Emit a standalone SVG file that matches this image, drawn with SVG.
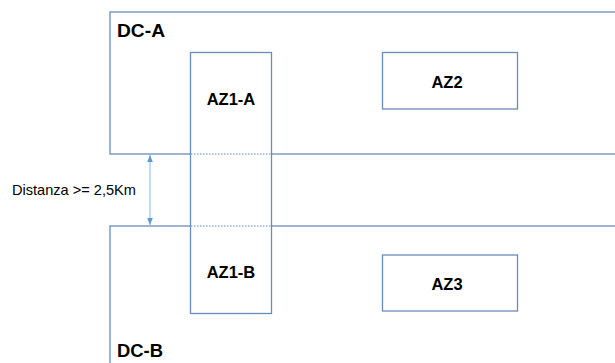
<svg xmlns="http://www.w3.org/2000/svg" width="615" height="363" viewBox="0 0 615 363">
<defs>
<style>
.box{fill:none;stroke:#6a8cb8;stroke-width:1.3}
.az{fill:#ffffff;stroke:#6a8cb8;stroke-width:1.3}
.dot{stroke:#8fb0d8;stroke-width:1.3;stroke-dasharray:1.5 1.5;fill:none}
.big{font-family:"Liberation Sans",Arial,sans-serif;font-weight:bold;font-size:19px;fill:#000}
.lbl{font-family:"Liberation Sans",Arial,sans-serif;font-weight:bold;font-size:16.5px;fill:#000;text-anchor:middle}
.note{font-family:"Liberation Sans",Arial,sans-serif;font-size:14.5px;fill:#000}
.dim{stroke:#8fb6e0;stroke-width:1;fill:none}
</style>
<marker id="ah" viewBox="0 0 10 10" refX="10" refY="5" markerWidth="7" markerHeight="7" orient="auto-start-reverse" markerUnits="userSpaceOnUse">
<path d="M0,1 L10,5 L0,9 Z" fill="#5b9bd5"/>
</marker>
</defs>
<rect width="615" height="363" fill="#ffffff"/>
<g id="dc-a">
<rect class="box" x="110" y="12" width="530" height="142"/>
<text class="big" x="117" y="37" textLength="48" lengthAdjust="spacingAndGlyphs">DC-A</text>
</g>
<g id="dc-b">
<rect class="box" x="110" y="226" width="530" height="160"/>
<text class="big" x="117" y="357" textLength="46" lengthAdjust="spacingAndGlyphs">DC-B</text>
</g>
<g id="az1">
<rect class="az" x="190.5" y="52.5" width="81" height="261"/>
<line class="dot" x1="191" y1="154" x2="271" y2="154"/>
<line class="dot" x1="191" y1="226" x2="271" y2="226"/>
</g>
<g id="az1-a">
<text class="lbl" x="231" y="105">AZ1-A</text>
</g>
<g id="az1-b">
<text class="lbl" x="231" y="278">AZ1-B</text>
</g>
<g id="az2">
<rect class="az" x="382.5" y="52.5" width="135" height="56.5"/>
<text class="lbl" x="447" y="88">AZ2</text>
</g>
<g id="az3">
<rect class="az" x="382.5" y="255" width="135" height="56"/>
<text class="lbl" x="447" y="290">AZ3</text>
</g>
<g id="connectors">
<line class="dim" x1="150" y1="155" x2="150" y2="225" marker-start="url(#ah)" marker-end="url(#ah)"/>
</g>
<g id="distance-label">
<text class="note" x="12" y="195" textLength="124" lengthAdjust="spacingAndGlyphs">Distanza &gt;= 2,5Km</text>
</g>
</svg>
